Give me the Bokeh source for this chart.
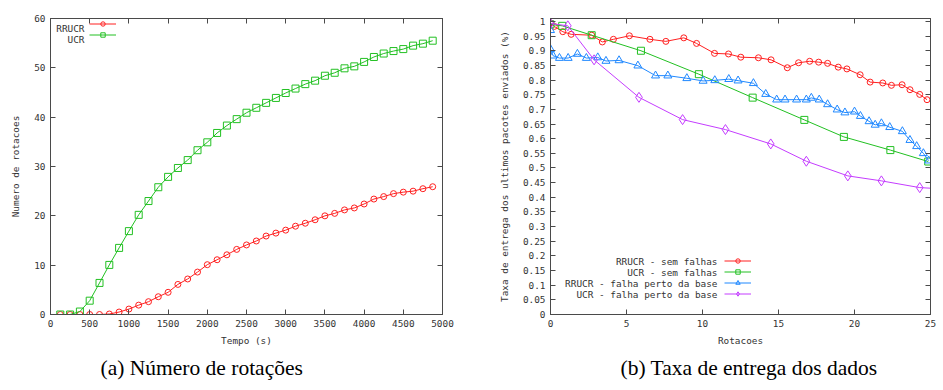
from bokeh.plotting import figure
from bokeh.layouts import row
from bokeh.models import LinearAxis, FixedTicker, Legend, LegendItem, Title, Range1d, Label
from bokeh.embed import file_html
from bokeh.resources import INLINE

# ---------------- data: (a) Numero de rotacoes ----------------
tempo = [125, 250, 375, 500, 625, 750, 875, 1000, 1125, 1250,
         1375, 1500, 1625, 1750, 1875, 2000, 2125, 2250, 2375, 2500,
         2625, 2750, 2875, 3000, 3125, 3250, 3375, 3500, 3625, 3750,
         3875, 4000, 4125, 4250, 4375, 4500, 4625, 4750, 4875]
rot_rrucr = [0, 0, 0, 0, 0, 0.1, 0.5, 1.1, 1.9, 2.6,
             3.6, 4.5, 6.1, 7.2, 8.6, 10.1, 11.1, 12.1, 13.2, 14.1,
             14.9, 15.9, 16.5, 17.1, 17.9, 18.5, 19.2, 20.0, 20.5, 21.2,
             21.6, 22.4, 23.4, 23.9, 24.5, 24.8, 25.0, 25.5, 25.9]
rot_ucr = [0, 0, 0.6, 2.8, 6.4, 10.05, 13.5, 16.9, 20.2, 23.0,
           25.8, 27.9, 29.7, 31.3, 33.3, 34.9, 36.8, 38.3, 39.6, 40.9,
           41.9, 42.9, 43.9, 44.9, 45.8, 46.7, 47.4, 48.4, 49.0, 49.9,
           50.3, 51.2, 52.2, 52.9, 53.4, 53.8, 54.5, 54.9, 55.5]
xticks_a = [0, 500, 1000, 1500, 2000, 2500, 3000, 3500, 4000, 4500, 5000]
yticks_a = [0, 10, 20, 30, 40, 50, 60]
legend_a = ["RRUCR", "UCR"]

# ---------------- data: (b) Taxa de entrega dos dados ----------------
rrucr_sem_x = [0.0, 0.25, 0.81, 1.36, 2.71, 3.41, 4.14, 5.19, 6.54, 7.59,
               8.77, 9.61, 10.79, 11.71, 12.52, 13.68, 14.51, 15.58, 16.32, 17.05,
               17.64, 18.23, 18.93, 19.50, 20.37, 21.03, 21.86, 22.43, 23.13, 23.65,
               24.29, 24.77]
rrucr_sem_y = [0.995, 0.983, 0.965, 0.956, 0.953, 0.930, 0.939, 0.951, 0.939, 0.932,
               0.944, 0.925, 0.891, 0.889, 0.878, 0.876, 0.869, 0.842, 0.859, 0.864,
               0.861, 0.857, 0.844, 0.838, 0.818, 0.793, 0.790, 0.782, 0.784, 0.767,
               0.751, 0.733]
ucr_sem_x = [0.0, 0.77, 2.71, 5.95, 9.76, 13.30, 16.70, 19.30, 22.36, 24.85]
ucr_sem_y = [0.990, 0.985, 0.953, 0.900, 0.820, 0.740, 0.664, 0.606, 0.561, 0.522]
rrucr_falha_x = [0.0, 0.0, 0.17, 0.59, 1.16, 1.77, 2.36, 3.11, 3.65, 4.51,
                 5.75, 6.91, 7.72, 8.97, 10.04, 10.81, 11.73, 12.34, 13.35, 14.16,
                 14.88, 15.43, 16.19, 16.83, 17.16, 17.68, 18.23, 18.86, 19.37, 20.0,
                 20.39, 20.96, 21.36, 21.77, 22.32, 23.15, 23.65, 24.09, 24.53, 24.88]
rrucr_falha_y = [0.970, 0.905, 0.883, 0.875, 0.875, 0.889, 0.875, 0.877, 0.865, 0.867,
                 0.849, 0.815, 0.815, 0.806, 0.797, 0.799, 0.803, 0.798, 0.789, 0.752,
                 0.733, 0.733, 0.733, 0.733, 0.739, 0.733, 0.717, 0.699, 0.689, 0.692,
                 0.677, 0.659, 0.647, 0.652, 0.639, 0.625, 0.595, 0.574, 0.550, 0.525]
ucr_falha_x = [0.0, 1.14, 2.87, 5.82, 8.69, 11.51, 14.49, 16.83, 19.56, 21.77, 24.29, 26.0]
ucr_falha_y = [0.993, 0.985, 0.869, 0.741, 0.665, 0.631, 0.582, 0.523, 0.473, 0.456, 0.433, 0.428]
xticks_b = [0, 5, 10, 15, 20, 25]
yticks_b = [0, 0.05, 0.1, 0.15, 0.2, 0.25, 0.3, 0.35, 0.4, 0.45, 0.5,
            0.55, 0.6, 0.65, 0.7, 0.75, 0.8, 0.85, 0.9, 0.95, 1]
ytick_labels_b = ["0", "0.05", "0.1", "0.15", "0.2", "0.25", "0.3", "0.35", "0.4", "0.45", "0.5",
                  "0.55", "0.6", "0.65", "0.7", "0.75", "0.8", "0.85", "0.9", "0.95", "1"]
legend_b = ["RRUCR - sem falhas", "UCR - sem falhas",
            "RRUCR - falha perto da base", "UCR - falha perto da base"]

# ---------------- styles ----------------
MONO = "DejaVu Sans Mono"
FS = "9.4px"
AX = "#4a4a4a"
TXT = "#333333"
RED = "#ff2020"
GREEN = "#22c022"
BLUE = "#1f88ff"
PURPLE = "#c43cff"


def style_axis(ax, ticks, labels=True, overrides=None):
    ax.ticker = FixedTicker(ticks=ticks)
    ax.axis_line_color = AX
    ax.major_tick_line_color = AX
    ax.major_tick_in = 5
    ax.major_tick_out = 0
    ax.minor_tick_line_color = None
    ax.major_label_text_font = MONO
    ax.major_label_text_font_size = FS
    ax.major_label_text_color = TXT
    ax.major_label_standoff = 5
    ax.axis_label_text_font = MONO
    ax.axis_label_text_font_size = FS
    ax.axis_label_text_font_style = "normal"
    ax.axis_label_text_color = TXT
    if overrides:
        ax.major_label_overrides = overrides
    if not labels:
        ax.major_label_overrides = {t: "" for t in ticks}
        ax.major_label_standoff = 0


def make_fig(x_range, y_range, frame_w, border_left, border_right):
    p = figure(frame_width=frame_w, frame_height=296,
               min_border_left=border_left, min_border_right=border_right,
               min_border_top=18, min_border_bottom=76,
               x_range=x_range, y_range=y_range,
               output_backend="svg", toolbar_location=None)
    p.xgrid.visible = False
    p.ygrid.visible = False
    p.outline_line_color = AX
    p.background_fill_color = "white"
    p.border_fill_color = "white"
    return p


def add_series(p, xs, ys, color, marker, size):
    ln = p.line(xs, ys, line_color=color, line_width=1)
    sc = p.scatter(xs, ys, marker=marker, size=size, line_color=color,
                   fill_color=None, line_width=1)
    return [ln, sc]


def add_key(p, series, texts, gx, gbottom, text_x, text_ys):
    # glyph samples (drawn by a Legend with blank labels) + right-aligned texts on their left
    leg = Legend(items=[LegendItem(label=" ", renderers=r) for r in series],
                 location=(gx, gbottom), orientation="vertical",
                 glyph_width=27, glyph_height=11, label_height=11, spacing=0,
                 padding=0, margin=0, label_standoff=0, label_width=1,
                 label_text_font=MONO, label_text_font_size=FS,
                 border_line_color=None, background_fill_alpha=0)
    p.add_layout(leg)
    for t, ty in zip(texts, text_ys):
        p.add_layout(Label(x=text_x, y=ty, x_units="screen", y_units="screen",
                           text=t, text_align="right", text_baseline="middle",
                           text_font=MONO, text_font_size=FS, text_color=TXT))


# ---------------- (a) ----------------
pa = make_fig(Range1d(0, 5000), Range1d(0, 60), 392, 50, 28)
r1 = add_series(pa, tempo, rot_rrucr, RED, "circle", 6)
r2 = add_series(pa, tempo, rot_ucr, GREEN, "square", 7)
style_axis(pa.xaxis[0], xticks_a)
style_axis(pa.yaxis[0], yticks_a)
pa.xaxis[0].axis_label = "Tempo (s)"
pa.yaxis[0].axis_label = "Numero de rotacoes"
pa.xaxis[0].axis_label_standoff = 5
pa.yaxis[0].axis_label_standoff = 10
top_a = LinearAxis()
right_a = LinearAxis()
style_axis(top_a, xticks_a, labels=False)
style_axis(right_a, yticks_a, labels=False)
pa.add_layout(top_a, "above")
pa.add_layout(right_a, "right")
add_key(pa, [r1, r2], legend_a, 39, 274, 34, [286.5, 275.5])
pa.add_layout(Title(text="(a) Número de rotações", align="left", offset=50,
                    text_font="Liberation Serif", text_font_size="21.5px",
                    text_font_style="normal", text_color="black"), "below")

# ---------------- (b) ----------------
pb = make_fig(Range1d(0, 25), Range1d(0, 1.01), 380, 80, 13)
b1 = add_series(pb, rrucr_sem_x, rrucr_sem_y, RED, "circle", 6)
b2 = add_series(pb, ucr_sem_x, ucr_sem_y, GREEN, "square", 7)
b3 = add_series(pb, rrucr_falha_x, rrucr_falha_y, BLUE, "triangle", 8)
b4 = add_series(pb, ucr_falha_x, ucr_falha_y, PURPLE, "diamond", 10)
style_axis(pb.xaxis[0], xticks_b)
style_axis(pb.yaxis[0], yticks_b, overrides=dict(zip(yticks_b, ytick_labels_b)))
pb.xaxis[0].axis_label = "Rotacoes"
pb.yaxis[0].axis_label = "Taxa de entrega dos ultimos pacotes enviados (%)"
pb.xaxis[0].axis_label_standoff = 5
pb.yaxis[0].axis_label_standoff = 10
top_b = LinearAxis()
right_b = LinearAxis()
style_axis(top_b, xticks_b, labels=False)
style_axis(right_b, yticks_b, labels=False)
pb.add_layout(top_b, "above")
pb.add_layout(right_b, "right")
add_key(pb, [b1, b2, b3, b4], legend_b, 174, 15, 167, [53.5, 42.5, 31.5, 20.5])
pb.add_layout(Title(text="(b) Taxa de entrega dos dados", align="left", offset=70,
                    text_font="Liberation Serif", text_font_size="21.5px",
                    text_font_style="normal", text_color="black"), "below")

layout = row(pa, pb)
open("out.html", "w").write(file_html(layout, INLINE))
